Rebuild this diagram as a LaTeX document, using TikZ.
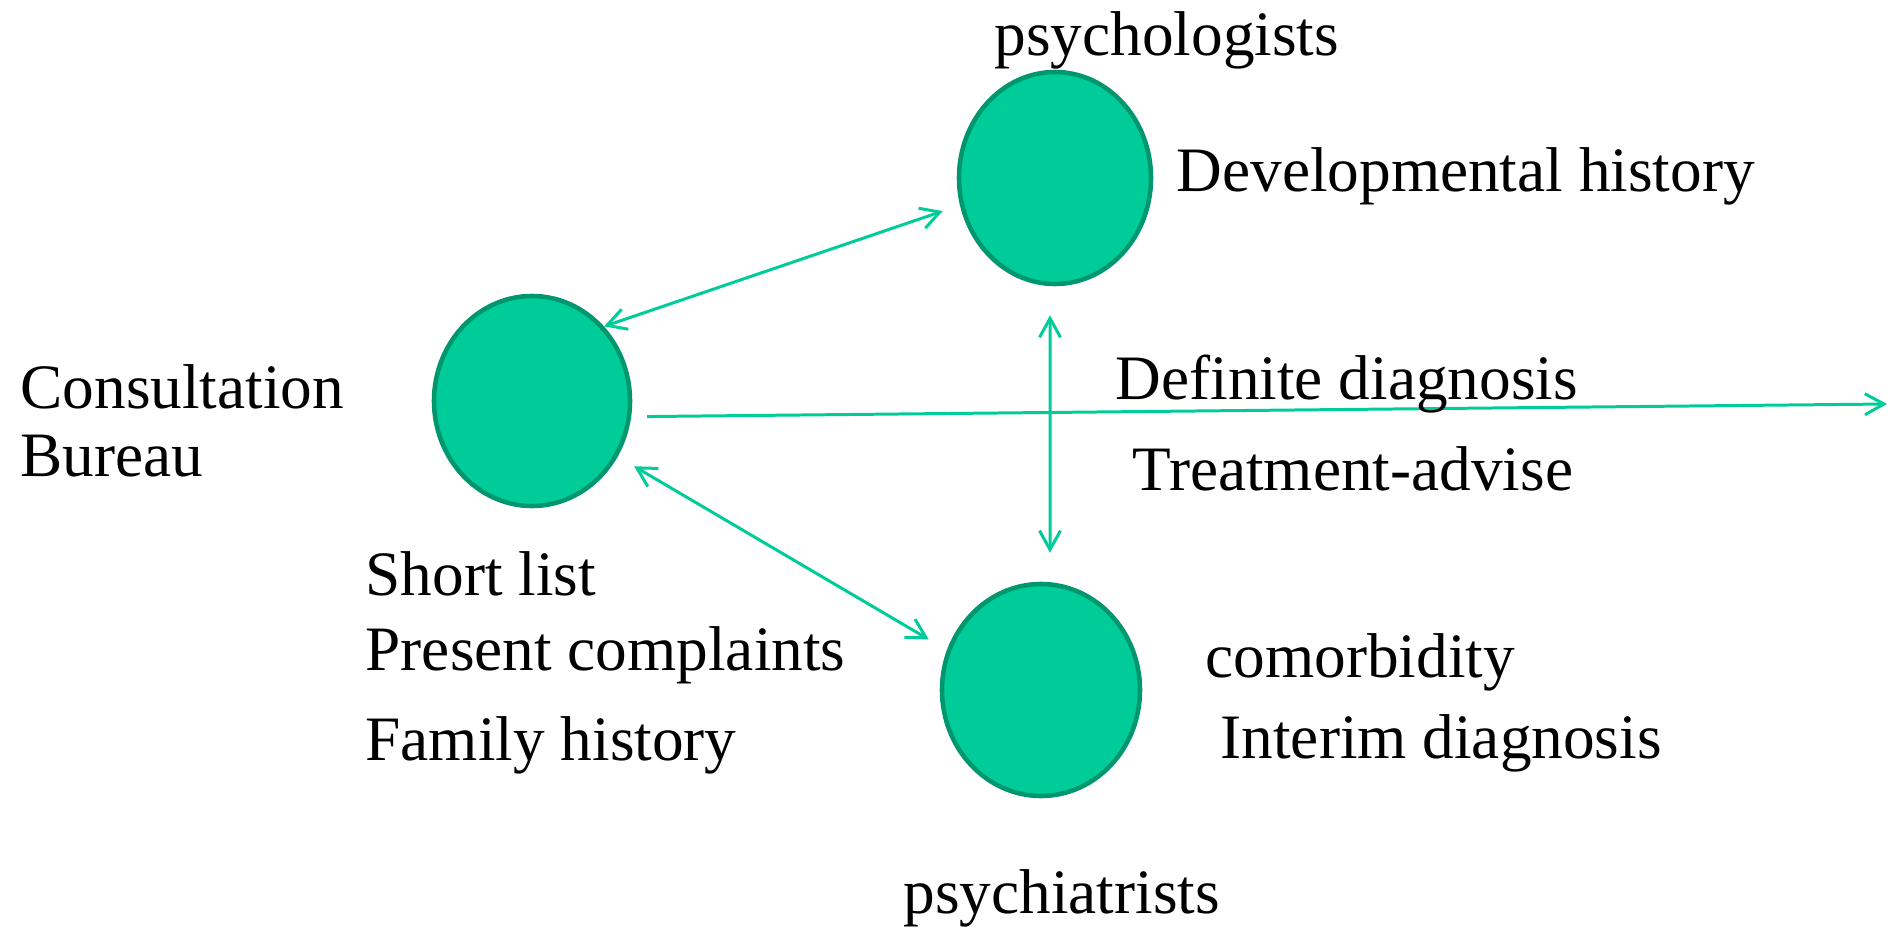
\documentclass[tikz,border=0pt]{standalone}
\usepackage{fontspec}
\setmainfont{Liberation Serif}
\usetikzlibrary{shapes.geometric,arrows.meta}
\definecolor{discfill}{HTML}{00CC99}
\definecolor{discline}{HTML}{00976F}
\definecolor{linkgreen}{HTML}{00CC99}
\tikzset{
  disc/.style={ellipse,draw=discline,line width=1.3pt,fill=discfill,inner sep=0pt},
  txt/.style={anchor=base west,inner sep=0pt,font=\fontsize{18}{22}\selectfont},
  link/.style={draw=linkgreen,line width=0.85pt,>={Straight Barb[length=1.9mm,width=2.1mm]}}
}
\begin{document}
\begin{tikzpicture}
\useasboundingbox (0,0) rectangle (18.9,9.4);
% the three discs
\node[disc,minimum width=1.96cm,minimum height=2.10cm] (cb) at (5.32,5.39) {};
\node[disc,minimum width=1.92cm,minimum height=2.12cm] (psy) at (10.55,7.62) {};
\node[disc,minimum width=1.98cm,minimum height=2.12cm] (psych) at (10.41,2.50) {};
\coordinate (out) at (18.87,5.36);
% connectors
\draw[link,<->,shorten >=1.8mm] (cb.46) -- (psy.196);
\draw[link,<->,shorten <=1.9mm,shorten >=2.1mm] (cb.-33) -- (psych.157);
\draw[link,<->,shorten <=2.9mm,shorten >=2.9mm] ([xshift=-0.5mm]psy.south) -- ([xshift=0.9mm]psych.north);
\draw[link,->,shorten <=1.6mm] (cb.-9) -- (out);
% texts
\node[txt] (t-psy) at (9.94,8.85) {psychologists};
\node[txt] (t-dev) at (11.76,7.49) {Developmental history};
\node[txt] (t-con) at (0.20,5.32) {Consultation};
\node[txt] (t-bur) at (0.20,4.64) {Bureau};
\node[txt] (t-def) at (11.15,5.41) {Definite diagnosis};
\node[txt] (t-tre) at (11.32,4.50) {Treatment-advise};
\node[txt] (t-sho) at (3.65,3.45) {Short list};
\node[txt] (t-pre) at (3.65,2.70) {Present complaints};
\node[txt] (t-fam) at (3.65,1.80) {Family history};
\node[txt] (t-com) at (12.05,2.63) {comorbidity};
\node[txt] (t-int) at (12.20,1.82) {Interim diagnosis};
\node[txt] (t-pch) at (9.03,0.27) {psychiatrists};
\end{tikzpicture}
\end{document}
